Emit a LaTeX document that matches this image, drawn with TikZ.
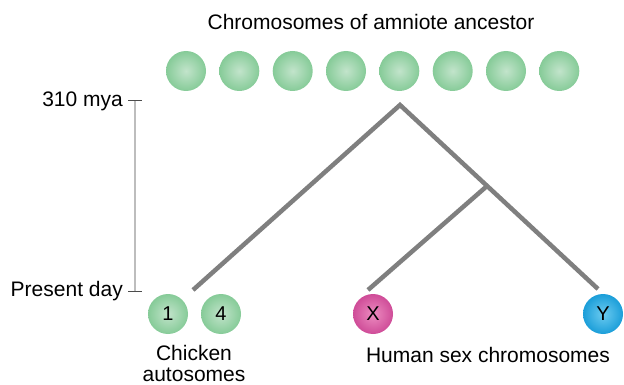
\documentclass[tikz,border=0pt]{standalone}
\usepackage{fontspec}
\setmainfont{Liberation Sans}
\definecolor{greenIn}{HTML}{C2E4CB}
\definecolor{greenOut}{HTML}{86CB98}
\definecolor{pinkIn}{HTML}{EC8CC0}
\definecolor{pinkOut}{HTML}{CF4C98}
\definecolor{blueIn}{HTML}{6CCBF0}
\definecolor{blueOut}{HTML}{1B9ED9}
\definecolor{branch}{HTML}{7F7F7F}
\definecolor{scalegray}{HTML}{BDBDBD}
\begin{document}
\begin{tikzpicture}[x=1pt,y=-1pt,
  chrom/.style={circle,minimum size=40pt,inner sep=0pt,font=\fontsize{20}{22}\selectfont},
  greenchrom/.style={chrom,inner color=greenIn,outer color=greenOut},
  pinkchrom/.style={chrom,inner color=pinkIn,outer color=pinkOut},
  bluechrom/.style={chrom,inner color=blueIn,outer color=blueOut},
  lbl/.style={font=\fontsize{21}{21}\selectfont,inner sep=0pt},
  tree/.style={draw=branch,line width=4.5pt},
  scaleline/.style={draw=scalegray,line width=1.5pt},
  tick/.style={draw=black!70,line width=1pt}]
\useasboundingbox (0,0) rectangle (624,385);
\node[lbl] (title) at (371,22) {Chromosomes of amniote ancestor};
\foreach \i/\x in {1/186,2/239.3,3/292.7,4/346,5/399.3,6/452.7,7/506,8/559.3}
  \node[greenchrom] (a\i) at (\x,71) {};
\node[greenchrom] (c1) at (168,314) {1};
\node[greenchrom] (c4) at (221,314) {4};
\node[pinkchrom] (hx) at (373,314) {X};
\node[bluechrom] (hy) at (603,314) {Y};
\coordinate (apex) at (400,105);
\coordinate (fork) at (487,186);
\coordinate (endc) at (193,290);
\coordinate (endx) at (368,290);
\coordinate (endy) at (598,289);
\draw[tree] (endc) -- (apex) -- (endy);
\draw[tree] (fork) -- (endx);
\coordinate (st) at (135,101);
\coordinate (sb) at (135,291);
\draw[scaleline] (st) -- (sb);
\draw[tick] (128,101) -- (142,101);
\draw[tick] (128,291) -- (142,291);
\node[lbl,anchor=east] (mya) at (123,101) {310 mya};
\node[lbl,anchor=east] (pd) at (123,291) {Present day};
\node[lbl,align=center] (chick) at (194,363) {Chicken\\autosomes};
\node[lbl] (human) at (488,355) {Human sex chromosomes};
\end{tikzpicture}
\end{document}
